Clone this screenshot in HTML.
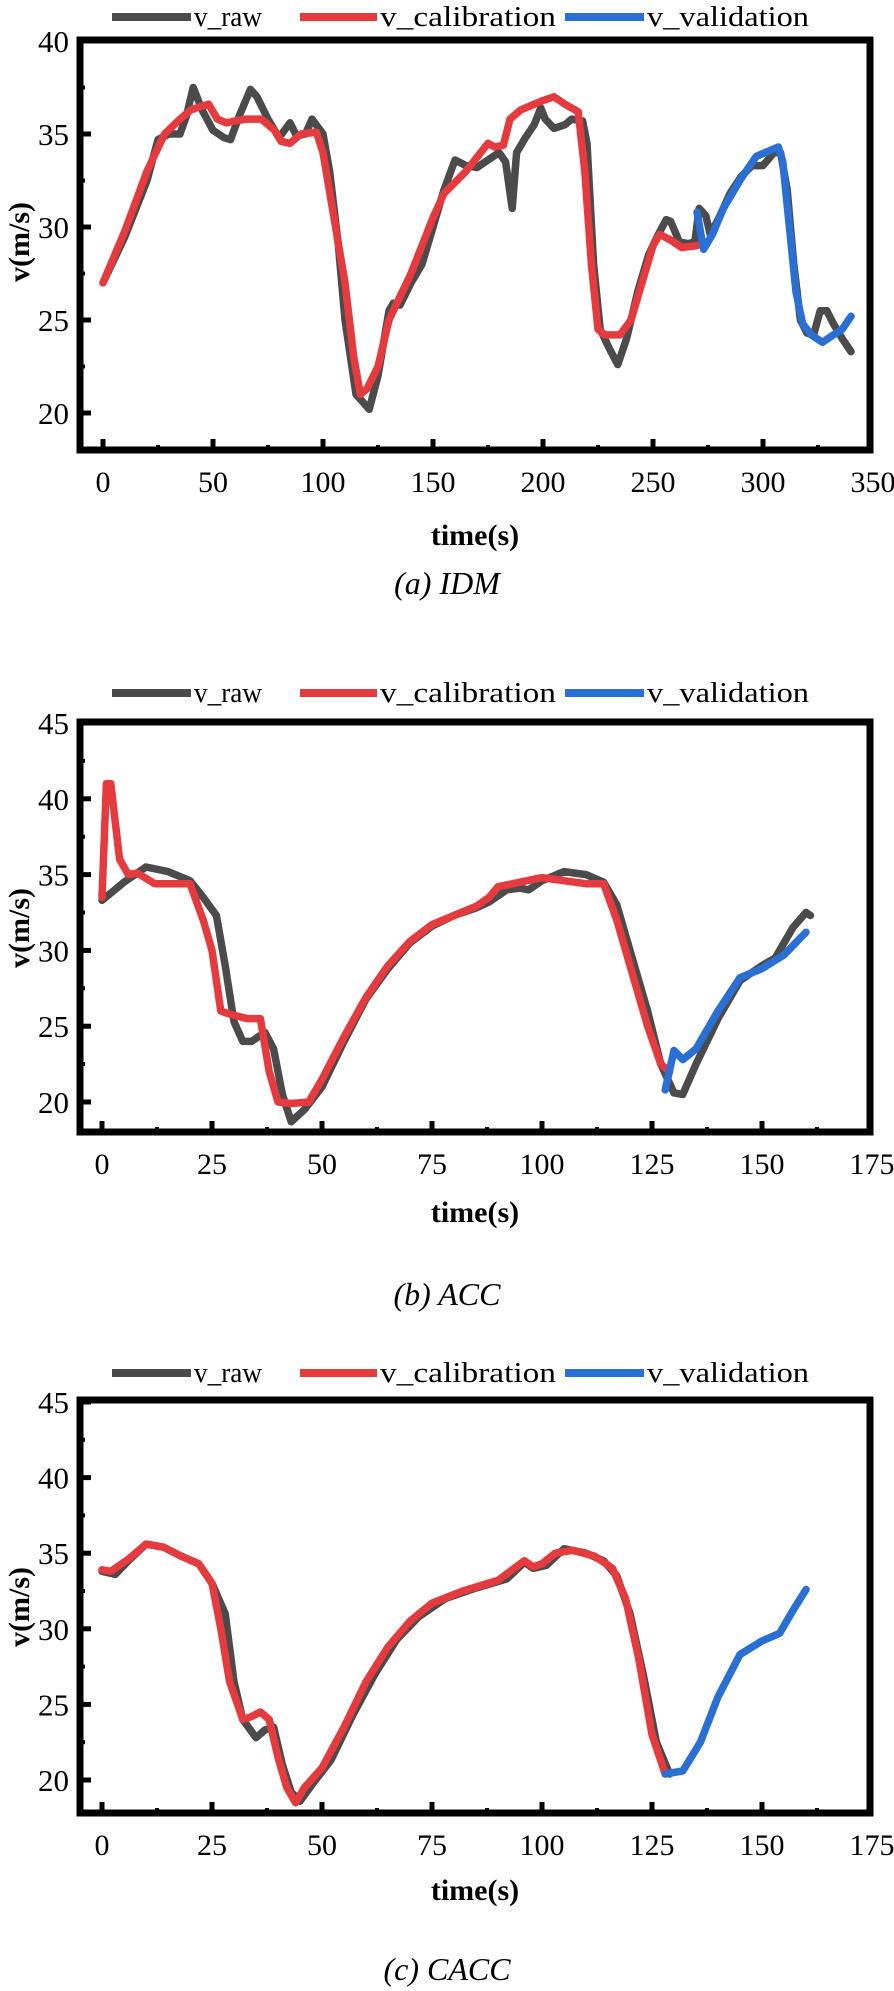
<!DOCTYPE html>
<html><head><meta charset="utf-8">
<style>
html,body{margin:0;padding:0;background:#fff;}
svg{display:block;}
svg text{font-family:"Liberation Serif","DejaVu Serif","Times New Roman",serif;fill:#000;}
</style></head>
<body>
<svg id="fig" width="894" height="1991" viewBox="0 0 894 1991" xmlns="http://www.w3.org/2000/svg"></svg>
<script>
// ---- Panel (a) IDM data ----
const aRawT = [0,10,20,25,30,35,38,41,45,50,55,58,62,67,70,75,80,85,88,92,95,100,103,107,110,115,118,121,125,130,132,135,140,145,150,155,160,165,170,175,180,183,186,188,192,196,199,201,205,210,213,218,220,223,226,230,234,238,243,248,252,256,258,262,266,269,271,274,276,280,285,290,295,300,305,308,311,314,317,320,323,326,329,332,336,340];
const aRawV = [27,29.5,32.5,34.7,35,35,36,37.5,36.3,35.2,34.8,34.7,36,37.4,37,35.8,34.8,35.6,34.9,35,35.8,35,33,29,25,21,20.6,20.2,22,25.5,25.9,25.8,27,28,30,32,33.6,33.3,33.2,33.6,34,33.5,31,34,34.8,35.5,36.4,35.8,35.3,35.5,35.8,35.7,34.5,28,24.5,23.5,22.6,24,26.5,28.5,29.5,30.4,30.3,29.2,29.1,29.2,31,30.6,29.6,30.5,31.8,32.7,33.3,33.3,34,34,32,28,25,24.3,24.2,25.5,25.5,24.8,24,23.3];
const aCalT = [0,10,20,28,35,40,45,48,52,56,60,65,72,78,81,85,90,97,100,105,110,114,117,120,125,130,140,150,155,165,175,178,182,185,190,200,205,210,216,219,222,225,228,235,240,245,250,253,258,263,270];
const aCalV = [27,29.8,33,35,35.8,36.3,36.5,36.6,35.8,35.6,35.7,35.8,35.8,35.2,34.6,34.5,35,35.1,34,30.5,27,23,21,21.3,22.5,25,27.5,30.5,31.8,33,34.5,34.3,34.4,35.8,36.3,36.8,37,36.6,36.2,33,28,24.5,24.2,24.2,25,27,29,29.6,29.3,28.9,29];
const aValT = [270,273,277,282,290,297,303,307,309,312,315,318,322,327,332,336,340];
const aValV = [30.8,28.8,29.6,31,32.6,33.8,34.1,34.3,33.5,30,26.5,24.8,24.2,23.8,24.2,24.5,25.2];
const aXTicks = [0,50,100,150,200,250,300,350];
const aYTicks = [20,25,30,35,40];

// ---- Panel (b) ACC data ----
const bRawT = [0,5,10,15,20,23,26,28,30,32,34,37,39,41,43,46,50,55,60,65,70,75,80,85,88,92,95,97,100,105,110,114,117,120,124,127,130,132,135,140,145,150,153,157,160,161];
const bRawV = [33.3,34.5,35.5,35.2,34.6,33.5,32.3,29,25.3,24,24,24.6,23.5,20.5,18.7,19.5,21,24,26.8,28.8,30.5,31.6,32.3,32.8,33.2,34,34.1,34,34.6,35.2,35,34.5,33,30,26,22.5,20.6,20.5,22.5,25.5,28,29,29.5,31.5,32.5,32.3];
const bCalT = [0,1,2,4,6,8,12,16,20,23,25,27,29,33,36,38,40,43,47,50,55,60,65,70,75,80,85,88,90,95,100,105,110,114,117,121,124,127,129];
const bCalV = [33.5,41,41,36,35,35.1,34.4,34.4,34.4,32,30,26,25.8,25.5,25.5,22,20,19.9,20,21.5,24.3,26.9,29,30.6,31.7,32.3,32.9,33.5,34.2,34.5,34.8,34.6,34.4,34.4,32,28,25,22.5,22];
const bValT = [128,130,132,135,140,145,150,155,160];
const bValV = [20.8,23.4,22.8,23.5,26,28.2,28.8,29.7,31.2];
const bXTicks = [0,25,50,75,100,125,150,175];
const bYTicks = [20,25,30,35,40,45];

// ---- Panel (c) CACC data ----
const cRawT = [0,3,6,10,14,18,22,25,28,30,32,35,37,39,41,43,45,48,52,57,62,67,72,78,85,92,96,98,101,105,110,114,117,120,123,126,129];
const cRawV = [33.8,33.6,34.5,35.6,35.4,34.8,34.3,33,31,26.5,24,22.8,23.3,23.5,21,19.2,18.6,19.8,21.3,24.3,27,29.3,30.8,32,32.7,33.3,34.4,34,34.2,35.3,35,34.5,33.5,31,27,22.5,20.4];
const cCalT = [0,2,6,10,14,18,22,25,27,29,32,34,36,38,40,42,44,46,50,55,60,65,70,75,82,90,96,98,100,103,107,112,116,119,122,125,128];
const cCalV = [33.9,33.8,34.6,35.6,35.4,34.8,34.3,33,30,26.5,24,24.2,24.5,24,21.5,19.5,18.5,19.5,20.8,23.5,26.5,28.8,30.5,31.7,32.5,33.2,34.5,34.1,34.3,35,35.2,34.8,34,32,28,23,20.4];
const cValT = [128,132,136,140,145,150,154,157,160];
const cValV = [20.4,20.6,22.5,25.5,28.3,29.2,29.7,31.2,32.6];
const cXTicks = [0,25,50,75,100,125,150,175];
const cYTicks = [20,25,30,35,40,45];

const NS = "http://www.w3.org/2000/svg";
const svg = document.getElementById('fig');
const RAW="#4b4b4b", CAL="#e63b3e", VAL="#2a6fd4";

function mk(tag, attrs, parent){
  const e=document.createElementNS(NS,tag);
  for(const k in attrs) e.setAttribute(k,attrs[k]);
  (parent||svg).appendChild(e);
  return e;
}

function panel(P){
  const g=mk('g',{});
  
  
  const L=80, R=870, T=P.top, B=P.bottom;
  const x=t=>P.x0+(t-P.tmin)*P.xs;
  const y=v=>P.y20-(v-20)*P.ys;
  const lg=mk('g',{},g);
  
  
  const items=[["v_raw",RAW,112,191,194],["v_calibration",CAL,300,377,380],["v_validation",VAL,565,644,647]];
  items.forEach(it=>{
    const ln=mk('line',{x1:it[2],x2:it[3],y1:P.legY,y2:P.legY,stroke:it[1],'stroke-width':8},lg);
    
    
    const tx=mk('text',{x:it[4],y:P.legY+9,'font-size':29,textLength:(it[0].length*13.5).toFixed(0),lengthAdjust:'spacingAndGlyphs'},lg);
    tx.textContent=it[0];
    
    
  });
  const series=[[P.raw,RAW,'raw-line'],[P.cal,CAL,'calibration-line'],[P.val,VAL,'validation-line']];
  series.forEach(s=>{
    const pts=s[0][0].map((t,i)=>x(t).toFixed(1)+','+y(s[0][1][i]).toFixed(1)).join(' ');
    const pl=mk('polyline',{points:pts,fill:'none',stroke:s[1],'stroke-width':7.5,'stroke-linejoin':'round','stroke-linecap':'round'},g);
    
    
  });
  const fr=mk('rect',{x:L,y:T,width:R-L,height:B-T,fill:'none',stroke:'#000','stroke-width':7},g);
  
  
  P.xt.forEach((t,i)=>{
    const xx=x(t);
    if(xx<R-5){ mk('line',{x1:xx,x2:xx,y1:B,y2:B-11,stroke:'#000','stroke-width':5},g); }
    if(i<P.xt.length-1){ const xm=x(t+(P.xt[1]-P.xt[0])/2); mk('line',{x1:xm,x2:xm,y1:B,y2:B-5,stroke:'#000','stroke-width':4},g); }
    const tx=mk('text',{x:xx,y:B+42,'font-size':30,'text-anchor':'middle',textLength:(String(t).length*15).toFixed(0),lengthAdjust:'spacingAndGlyphs'},g);
    tx.textContent=t;
    
    
  });
  P.yt.forEach((v,i)=>{
    const yy=y(v);
    mk('line',{x1:L,x2:L+11,y1:yy,y2:yy,stroke:'#000','stroke-width':5},g);
    const ym=y(v+2.5); if(ym>T+5) mk('line',{x1:L,x2:L+5,y1:ym,y2:ym,stroke:'#000','stroke-width':4},g);
    const tx=mk('text',{x:69,y:yy+11,'font-size':31,'text-anchor':'end'},g);
    tx.textContent=v;
    
    
  });
  const xt=mk('text',{x:475,y:P.xTitleY,'font-size':30,'font-weight':'bold','text-anchor':'middle'},g);
  xt.textContent='time(s)';
  
  
  const yt=mk('text',{x:0,y:0,'font-size':30,'font-weight':'bold','text-anchor':'middle',transform:'translate(29,'+P.yTitleY+') rotate(-90)'},g);
  yt.textContent='v(m/s)';
  
  
  const cp=mk('text',{x:447,y:P.capY,'font-size':32,'font-style':'italic','text-anchor':'middle'},g);
  cp.textContent=P.caption;
  
  
}

panel({name:'panel-a-idm',top:40,bottom:450,legY:17,x0:103,tmin:0,xs:2.2,y20:413,ys:18.6,
  raw:[aRawT,aRawV],cal:[aCalT,aCalV],val:[aValT,aValV],xt:aXTicks,yt:aYTicks,
  xTitleY:545,yTitleY:242,capY:594,caption:'(a) IDM'});
panel({name:'panel-b-acc',top:722,bottom:1132,legY:693,x0:102,tmin:0,xs:4.4,y20:1102,ys:15.16,
  raw:[bRawT,bRawV],cal:[bCalT,bCalV],val:[bValT,bValV],xt:bXTicks,yt:bYTicks,
  xTitleY:1222,yTitleY:928,capY:1305,caption:'(b) ACC'});
panel({name:'panel-c-cacc',top:1400,bottom:1813,legY:1373,x0:102,tmin:0,xs:4.4,y20:1780,ys:15.12,
  raw:[cRawT,cRawV],cal:[cCalT,cCalV],val:[cValT,cValV],xt:cXTicks,yt:cYTicks,
  xTitleY:1900,yTitleY:1607,capY:1980,caption:'(c) CACC'});
</script>
</body></html>
